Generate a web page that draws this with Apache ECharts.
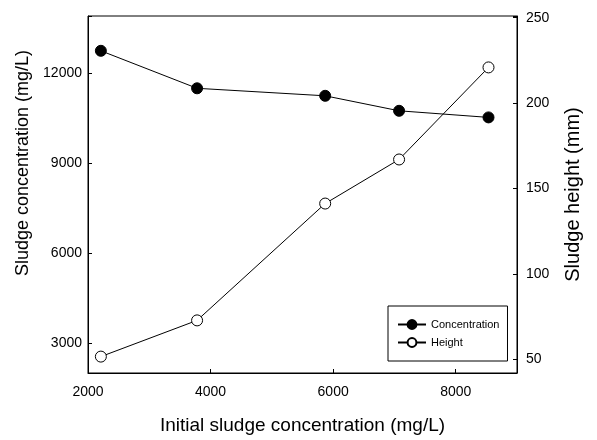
<!DOCTYPE html>
<html>
<head>
<meta charset="utf-8">
<script src="https://cdn.jsdelivr.net/npm/echarts@6/dist/echarts.min.js"></script>
<style>
html,body{margin:0;padding:0;background:#fff;}
#chart{width:597px;height:440px;}
</style>
</head>
<body>
<div id="chart"></div>
<script>
const initialConc = [2210, 3780, 5870, 7076, 8535];
const sludgeConc = [12740, 11490, 11240, 10740, 10520];
const sludgeHeight = [51.6, 72.8, 141.2, 167, 220.9];
const xTicks = [2000, 4000, 6000, 8000];
const leftTicks = [3000, 6000, 9000, 12000];
const rightTicks = [50, 100, 150, 200, 250];

const FONT = '"Liberation Sans", Arial, Helvetica, sans-serif';
const chart = echarts.init(document.getElementById('chart'), null, {renderer: 'canvas'});

const concData = initialConc.map((x, i) => [x, sludgeConc[i]]);
const heightData = initialConc.map((x, i) => [x, sludgeHeight[i]]);

chart.setOption({
  animation: false,
  backgroundColor: '#fff',
  textStyle: {fontFamily: FONT, color: '#000'},
  grid: {left: 88, right: 80, top: 16, bottom: 66, show: true, borderColor: '#000', borderWidth: 1, containLabel: false},
  legend: {
    left: 388, top: 306, orient: 'vertical',
    padding: [13, 8, 13, 9], itemGap: 7, itemWidth: 28, itemHeight: 11,
    borderColor: '#000', borderWidth: 1, backgroundColor: '#fff',
    textStyle: {fontFamily: FONT, fontSize: 11, color: '#000'},
    data: ['Concentration', 'Height']
  },
  xAxis: {
    type: 'value', min: 2000, max: 9000, interval: 2000,
    name: 'Initial sludge concentration (mg/L)', nameLocation: 'middle', nameGap: 43,
    nameTextStyle: {fontFamily: FONT, fontSize: 19, color: '#000'},
    axisLine: {show: true, lineStyle: {color: '#000', width: 1}},
    axisTick: {show: true, inside: true, length: 4, lineStyle: {color: '#000'}},
    axisLabel: {margin: 12, fontFamily: FONT, fontSize: 14, color: '#000',
      formatter: v => xTicks.includes(v) ? String(v) : ''},
    splitLine: {show: false}
  },
  yAxis: [{
    type: 'value', position: 'left', min: 2000, max: 13900,
    splitNumber: 4, minInterval: 3000, maxInterval: 3000,
    name: 'Sludge concentration (mg/L)', nameLocation: 'middle', nameGap: 50,
    nameTextStyle: {fontFamily: FONT, fontSize: 18, color: '#000', padding: [0, 0, 0, 63]},
    axisLine: {show: true, lineStyle: {color: '#000', width: 1}},
    axisTick: {show: true, inside: true, length: 4, lineStyle: {color: '#000'}},
    axisLabel: {margin: 6, fontFamily: FONT, fontSize: 14, color: '#000',
      formatter: v => leftTicks.includes(v) ? String(v) : ''},
    splitLine: {show: false}
  }, {
    type: 'value', position: 'right', min: 42, max: 251,
    splitNumber: 4, minInterval: 50, maxInterval: 50,
    name: 'Sludge height (mm)', nameLocation: 'middle', nameGap: 46,
    nameTextStyle: {fontFamily: FONT, fontSize: 20, color: '#000'},
    axisLine: {show: true, lineStyle: {color: '#000', width: 1}},
    axisTick: {show: true, inside: true, length: 4, lineStyle: {color: '#000'}},
    axisLabel: {margin: 9, fontFamily: FONT, fontSize: 14, color: '#000',
      formatter: v => rightTicks.includes(v) ? String(v) : ''},
    splitLine: {show: false}
  }],
  series: [{
    name: 'Concentration', type: 'line', yAxisIndex: 0, data: concData,
    symbol: 'circle', symbolSize: 11,
    lineStyle: {color: '#000', width: 1},
    itemStyle: {color: '#000', borderColor: '#000', borderWidth: 1}
  }, {
    name: 'Height', type: 'line', yAxisIndex: 1, data: heightData,
    symbol: 'circle', symbolSize: 11,
    lineStyle: {color: '#000', width: 1},
    itemStyle: {color: '#fff', borderColor: '#000', borderWidth: 1}
  }]
});
</script>
</body>
</html>
